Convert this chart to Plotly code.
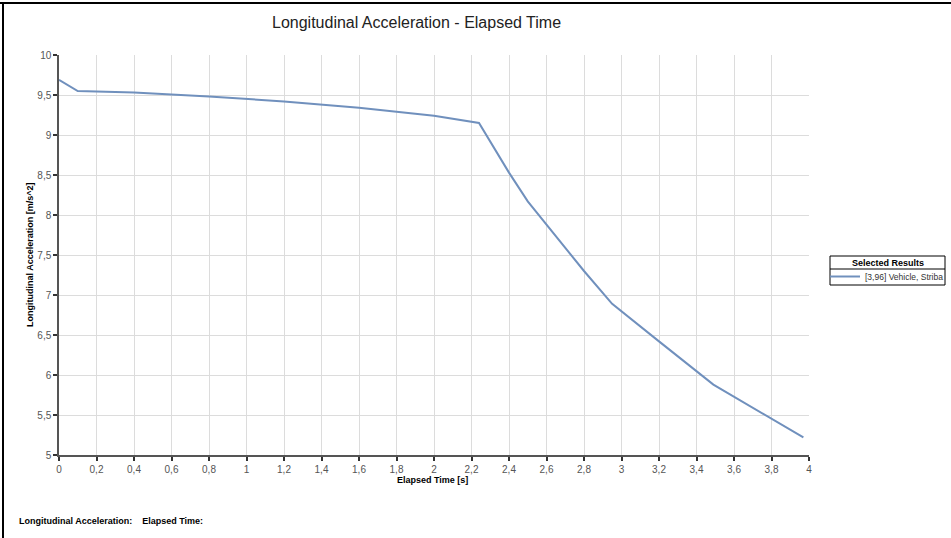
import plotly.graph_objects as go

# Longitudinal acceleration trace over elapsed time
elapsed_time = [0.0, 0.1, 0.4, 0.8, 1.2, 1.6, 2.0, 2.24, 2.4, 2.5, 2.8, 2.95, 3.2, 3.49, 3.97]
long_accel = [9.69, 9.55, 9.53, 9.48, 9.42, 9.34, 9.24, 9.15, 8.53, 8.17, 7.30, 6.89, 6.42, 5.88, 5.22]

series_name = "[3,96] Vehicle, Striba"
x_ticks = [round(0.2 * i, 1) for i in range(21)]
y_ticks = [5 + 0.5 * i for i in range(11)]

W, H = 951, 538
L, R, T, B = 59, 142, 55, 83


def px_x(p):
    return (p - L) / (W - L - R)


def px_y(p):
    return (H - B - p) / (H - T - B)


FONT = "Liberation Sans, Arial, sans-serif"

fig = go.Figure()
fig.add_trace(go.Scatter(
    x=elapsed_time, y=long_accel, mode="lines", name=series_name,
    line=dict(color="#7090bd", width=2),
))

axis_common = dict(
    showgrid=True, gridcolor="#dcdcdc", gridwidth=1,
    showline=True, linecolor="#555555", linewidth=1.5,
    ticks="outside", ticklen=4, tickcolor="#333333", tickwidth=1.5,
    tickfont=dict(family=FONT, size=10, color="#555555"),
    zeroline=False, fixedrange=True,
)

fig.update_xaxes(range=[0, 4], tickvals=x_ticks, **axis_common)
fig.update_yaxes(range=[5, 10], tickvals=y_ticks, **axis_common)

# legend frame: box from x 830..945, y 256..285 with a rule under the heading
LEG_X0, LEG_X1, LEG_Y0, LEG_Y1, LEG_RULE = 830, 945, 256, 285, 269

fig.update_layout(
    width=W, height=H,
    margin=dict(l=L, r=R, t=T, b=B, autoexpand=False),
    paper_bgcolor="white", plot_bgcolor="white",
    separators=", ",
    showlegend=True,
    legend=dict(
        x=px_x(LEG_X0 - 5), y=px_y(262), xanchor="left", yanchor="top",
        bgcolor="rgba(0,0,0,0)", borderwidth=0,
        font=dict(family=FONT, size=8.5, color="#333333"),
        itemwidth=30, tracegroupgap=0,
    ),
    annotations=[
        dict(text="Longitudinal Acceleration - Elapsed Time", xref="paper", yref="paper",
             x=px_x(416), y=px_y(23), xanchor="center", yanchor="middle", showarrow=False,
             font=dict(family=FONT, size=16, color="#222222")),
        dict(text="<b>Longitudinal Acceleration [m/s^2]</b>", xref="paper", yref="paper",
             x=px_x(30), y=px_y(255), xanchor="center", yanchor="middle", showarrow=False,
             textangle=-90, font=dict(family=FONT, size=9, color="#000000")),
        dict(text="<b>Elapsed Time [s]</b>", xref="paper", yref="paper",
             x=px_x(432), y=px_y(480), xanchor="center", yanchor="middle", showarrow=False,
             font=dict(family=FONT, size=9, color="#000000")),
        dict(text="<b>Longitudinal Acceleration:&nbsp;&nbsp;&nbsp;&nbsp;Elapsed Time:</b>",
             xref="paper", yref="paper",
             x=px_x(17), y=px_y(521), xanchor="left", yanchor="middle", showarrow=False,
             font=dict(family=FONT, size=9, color="#000000")),
        dict(text="<b>Selected Results</b>", xref="paper", yref="paper",
             x=px_x((LEG_X0 + LEG_X1) / 2), y=px_y((LEG_Y0 + LEG_RULE) / 2 + 0.5),
             xanchor="center", yanchor="middle", showarrow=False,
             font=dict(family=FONT, size=9, color="#000000")),
    ],
    shapes=[
        dict(type="line", xref="paper", yref="paper", x0=px_x(0), x1=px_x(W),
             y0=px_y(3), y1=px_y(3), line=dict(color="#000000", width=2)),
        dict(type="line", xref="paper", yref="paper", x0=px_x(3), x1=px_x(3),
             y0=px_y(3), y1=px_y(H), line=dict(color="#000000", width=2)),
        dict(type="rect", xref="paper", yref="paper", x0=px_x(LEG_X0), x1=px_x(LEG_X1),
             y0=px_y(LEG_Y0), y1=px_y(LEG_Y1), line=dict(color="#000000", width=1),
             fillcolor="rgba(0,0,0,0)", layer="below"),
        dict(type="line", xref="paper", yref="paper", x0=px_x(LEG_X0), x1=px_x(LEG_X1),
             y0=px_y(LEG_RULE), y1=px_y(LEG_RULE), line=dict(color="#000000", width=1)),
    ],
)

fig.write_html("out.html")
